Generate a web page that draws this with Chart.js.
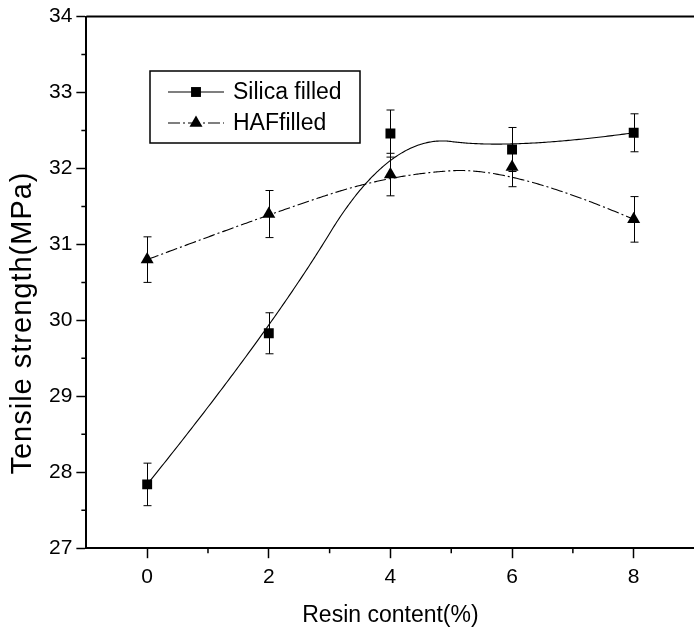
<!DOCTYPE html>
<html>
<head>
<meta charset="utf-8">
<script src="https://cdn.jsdelivr.net/npm/chart.js@4.4.0/dist/chart.umd.min.js"></script>
<style>
  html, body { margin: 0; padding: 0; background: #fff; overflow: hidden; }
  #wrap { position: relative; width: 702px; height: 631px; }
</style>
</head>
<body>
<div id="wrap"><canvas id="chart"></canvas></div>
<script>
// ===== DATA =====
const resinContent = [0, 2, 4, 6, 8];
const silicaStrength = [27.84, 29.83, 32.46, 32.25, 32.47];
const silicaError = [0.28, 0.27, 0.31, 0.29, 0.25];
const hafStrength = [30.80, 31.40, 31.92, 32.02, 31.33];
const hafError = [0.30, 0.31, 0.28, 0.26, 0.30];
const seriesNames = ['Silica filled', 'HAFfilled'];
const xTitle = 'Resin content(%)';
const yTitle = 'Tensile strength(MPa)';

const FONT = "'Liberation Sans', Arial, sans-serif";

// clamped uniform B-spline with the data points as control points
function bsplinePoint(pts, u, p) {
  const n = pts.length;
  const knots = [];
  for (let i = 0; i <= p; i++) knots.push(0);
  for (let i = 1; i < n - p; i++) knots.push(i / (n - p));
  for (let i = 0; i <= p; i++) knots.push(1);
  let k = p;
  while (k < n - 1 && u >= knots[k + 1]) k++;
  const d = [];
  for (let j = 0; j <= p; j++) d.push({ x: pts[j + k - p].x, y: pts[j + k - p].y });
  for (let r = 1; r <= p; r++) {
    for (let j = p; j >= r; j--) {
      const i = j + k - p;
      const a = (u - knots[i]) / (knots[i + 1 + p - r] - knots[i]);
      d[j] = { x: (1 - a) * d[j - 1].x + a * d[j].x, y: (1 - a) * d[j - 1].y + a * d[j].y };
    }
  }
  return d[p];
}

const curvePlugin = {
  id: 'bsplineCurves',
  beforeDatasetsDraw(chart) {
    const { ctx, scales: { x, y } } = chart;
    chart.data.datasets.forEach(ds => {
      const pts = ds.data.map(d => ({ x: x.getPixelForValue(d.x), y: y.getPixelForValue(d.y) }));
      ctx.save();
      ctx.strokeStyle = '#000';
      ctx.lineWidth = 1.1;
      ctx.setLineDash(ds.curveDash || []);
      ctx.beginPath();
      for (let s = 0; s <= 300; s++) {
        const p = bsplinePoint(pts, s / 300, 2);
        if (s === 0) ctx.moveTo(p.x, p.y); else ctx.lineTo(p.x, p.y);
      }
      ctx.stroke();
      ctx.restore();
    });
  },
};

const errorBarPlugin = {
  id: 'errorBars',
  afterDatasetsDraw(chart) {
    const { ctx, scales: { x, y } } = chart;
    chart.data.datasets.forEach(ds => {
      ctx.save();
      ctx.strokeStyle = '#000';
      ctx.lineWidth = 1;
      ds.data.forEach((d, i) => {
        const e = ds.errorBars[i];
        const px = Math.round(x.getPixelForValue(d.x)) + 0.5;
        const top = y.getPixelForValue(d.y + e);
        const bot = y.getPixelForValue(d.y - e);
        ctx.beginPath();
        ctx.moveTo(px, top); ctx.lineTo(px, bot);
        ctx.moveTo(px - 4, top); ctx.lineTo(px + 4, top);
        ctx.moveTo(px - 4, bot); ctx.lineTo(px + 4, bot);
        ctx.stroke();
      });
      ctx.restore();
    });
  },
};

const framePlugin = {
  id: 'frame',
  afterDraw(chart) {
    const { ctx, chartArea: { left, right, top, bottom }, scales: { x, y } } = chart;
    ctx.save();
    ctx.strokeStyle = '#000';
    // top border
    ctx.lineWidth = 2;
    ctx.beginPath();
    ctx.moveTo(left, top); ctx.lineTo(right, top);
    ctx.stroke();
    // minor ticks
    ctx.lineWidth = 1.5;
    ctx.beginPath();
    x.ticks.forEach(t => {
      if (Math.abs(t.value % 2) === 1 && t.value > x.min && t.value < x.max) {
        const px = x.getPixelForValue(t.value);
        ctx.moveTo(px, bottom); ctx.lineTo(px, bottom + 5);
      }
    });
    y.ticks.forEach(t => {
      if (!Number.isInteger(t.value)) {
        const py = y.getPixelForValue(t.value);
        ctx.moveTo(left, py); ctx.lineTo(left - 5, py);
      }
    });
    ctx.stroke();
    // y axis title, sits a little below the middle of the axis as in the original
    ctx.translate(23, 323);
    ctx.rotate(-Math.PI / 2);
    ctx.fillStyle = '#000';
    ctx.font = `29px ${FONT}`;
    ctx.letterSpacing = '1px';
    ctx.textAlign = 'center';
    ctx.textBaseline = 'middle';
    ctx.fillText(yTitle, 0, 0);
    ctx.restore();
  },
};

const legendPlugin = {
  id: 'boxLegend',
  afterDatasetsDraw(chart) {
    const { ctx } = chart;
    const bx = 150, by = 71, bw = 210, bh = 72;
    ctx.save();
    ctx.fillStyle = '#fff';
    ctx.fillRect(bx, by, bw, bh);
    ctx.strokeStyle = '#000';
    ctx.lineWidth = 1.5;
    ctx.strokeRect(bx, by, bw, bh);
    const rows = [92, 123];
    chart.data.datasets.forEach((ds, i) => {
      const ry = rows[i];
      ctx.lineWidth = 1.1;
      ctx.setLineDash(ds.curveDash || []);
      ctx.beginPath();
      ctx.moveTo(168, ry); ctx.lineTo(224, ry);
      ctx.stroke();
      ctx.setLineDash([]);
      ctx.fillStyle = '#000';
      Chart.helpers.drawPoint(ctx, { pointStyle: ds.pointStyle, radius: ds.pointRadius, borderWidth: 0 }, 196, ry);
      ctx.font = `23px ${FONT}`;
      ctx.textBaseline = 'middle';
      ctx.fillText(ds.label, 233, ry + 1);
    });
    ctx.restore();
  },
};

new Chart(document.getElementById('chart').getContext('2d'), {
  type: 'scatter',
  data: {
    datasets: [
      {
        label: seriesNames[0],
        data: resinContent.map((r, i) => ({ x: r, y: silicaStrength[i] })),
        errorBars: silicaError,
        curveDash: [],
        pointStyle: 'rect',
        pointRadius: 7,
        backgroundColor: '#000',
        borderColor: '#000',
        borderWidth: 0,
      },
      {
        label: seriesNames[1],
        data: resinContent.map((r, i) => ({ x: r, y: hafStrength[i] })),
        errorBars: hafError,
        curveDash: [12, 3, 2, 3],
        pointStyle: 'triangle',
        pointRadius: 7.5,
        backgroundColor: '#000',
        borderColor: '#000',
        borderWidth: 0,
      },
    ],
  },
  options: {
    responsive: true,
    maintainAspectRatio: false,
    animation: false,
    layout: { padding: { left: 45, top: 16, right: 0, bottom: 2 } },
    plugins: { legend: { display: false }, tooltip: { enabled: false } },
    scales: {
      x: {
        type: 'linear',
        min: -1,
        max: 9,
        border: { color: '#000', width: 2 },
        grid: {
          drawOnChartArea: false,
          drawTicks: true,
          tickLength: 10,
          tickWidth: 1.5,
          tickColor: c => (c.tick && c.tick.value % 2 === 0 && c.tick.value >= 0 && c.tick.value <= 8 ? '#000' : 'rgba(0,0,0,0)'),
        },
        ticks: {
          stepSize: 1,
          autoSkip: false,
          maxRotation: 0,
          padding: 6,
          color: '#000',
          font: { family: FONT, size: 21 },
          callback: v => (v % 2 === 0 && v >= 0 && v <= 8 ? String(v) : ''),
        },
        title: { display: true, text: xTitle, color: '#000', font: { family: FONT, size: 23 }, padding: { top: 6, bottom: 0 } },
      },
      y: {
        min: 27,
        max: 34,
        border: { color: '#000', width: 2 },
        grid: {
          drawOnChartArea: false,
          drawTicks: true,
          tickLength: 10,
          tickWidth: 1.5,
          tickColor: c => (c.tick && Number.isInteger(c.tick.value) ? '#000' : 'rgba(0,0,0,0)'),
        },
        ticks: {
          stepSize: 0.5,
          autoSkip: false,
          padding: 4,
          color: '#000',
          font: { family: FONT, size: 21 },
          callback: v => (Number.isInteger(v) ? String(v) : ''),
        },
      },
    },
  },
  plugins: [curvePlugin, errorBarPlugin, framePlugin, legendPlugin],
});
</script>
</body>
</html>
